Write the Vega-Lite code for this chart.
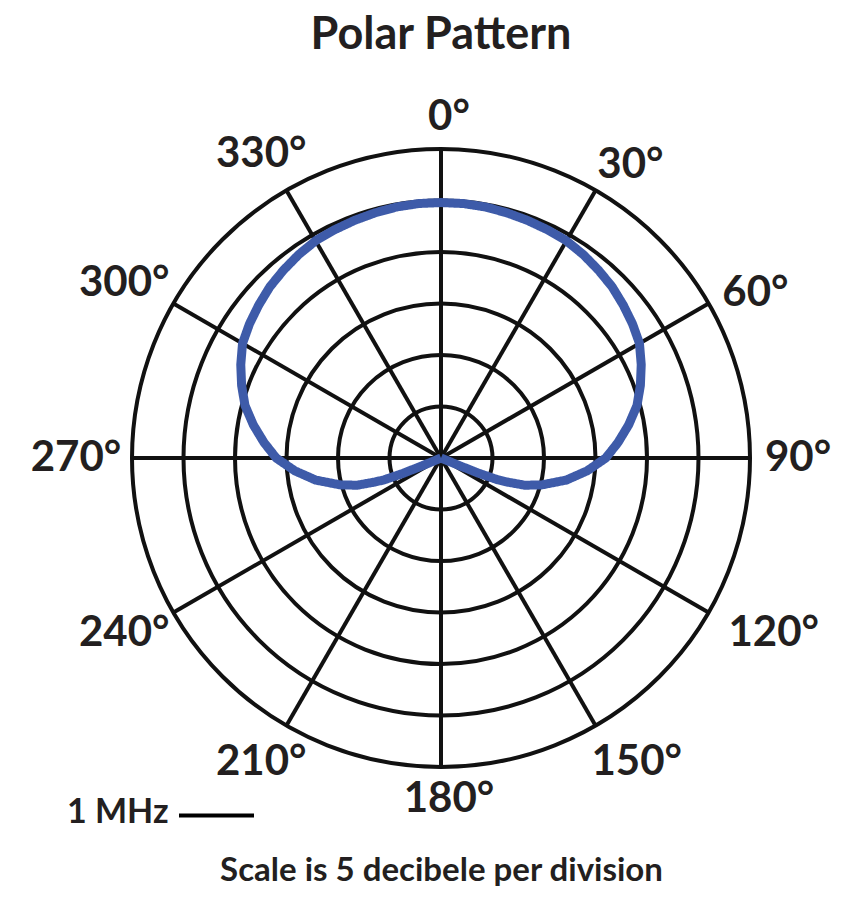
{
  "$schema": "https://vega.github.io/schema/vega-lite/v6.json",
  "width": 618,
  "height": 618,
  "autosize": {"type": "none"},
  "padding": {"left": 132, "top": 149, "right": 93, "bottom": 148},
  "background": "white",
  "title": {"text": "Polar Pattern", "font": "Lato", "fontSize": 45, "fontWeight": "bold", "color": "#231f20", "anchor": "middle", "frame": "group", "baseline": "alphabetic", "offset": 2},
  "config": {"view": {"stroke": null}, "font": "Lato"},
  "encoding": {
    "x": {"field": "px", "type": "quantitative", "scale": {"domain": [-6, 6], "nice": false, "zero": false},
      "axis": {"title": "Scale is 5 decibele per division", "domain": false, "ticks": false, "labels": false, "grid": false, "titleFont": "Lato", "titleFontSize": 33, "titleFontWeight": "bold", "titleColor": "#231f20", "titlePadding": 87}},
    "y": {"field": "py", "type": "quantitative", "scale": {"domain": [-6, 6], "nice": false, "zero": false}, "axis": null}
  },
  "layer": [
    {
      "data": {"values": [{"ring": 1}, {"ring": 2}, {"ring": 3}, {"ring": 4}, {"ring": 5}, {"ring": 6}]},
      "transform": [{"calculate": "0", "as": "px"}, {"calculate": "0", "as": "py"}],
      "mark": {"type": "arc", "filled": false, "stroke": "#111111", "strokeWidth": 4, "theta": 0, "theta2": 6.2832},
      "encoding": {"radius": {"field": "ring", "type": "quantitative", "stack": false, "scale": {"type": "linear", "domain": [0, 6], "range": [0, 309], "zero": true}}}
    },
    {
      "data": {"values": [{"angle": 0}, {"angle": 30}, {"angle": 60}, {"angle": 90}, {"angle": 120}, {"angle": 150}, {"angle": 180}, {"angle": 210}, {"angle": 240}, {"angle": 270}, {"angle": 300}, {"angle": 330}]},
      "transform": [
        {"calculate": "0", "as": "px"},
        {"calculate": "0", "as": "py"},
        {"calculate": "6*sin(datum.angle*PI/180)", "as": "px2"},
        {"calculate": "6*cos(datum.angle*PI/180)", "as": "py2"}
      ],
      "mark": {"type": "rule", "stroke": "#111111", "strokeWidth": 4},
      "encoding": {"x2": {"field": "px2"}, "y2": {"field": "py2"}}
    },
    {
      "data": {"values": [
        {"angle": -113, "db": -30}, {"angle": -112.5, "db": -28}, {"angle": -112, "db": -26}, {"angle": -111, "db": -24.1},
        {"angle": -110, "db": -23.2}, {"angle": -108, "db": -21.45}, {"angle": -105, "db": -19.9}, {"angle": -100, "db": -17.65},
        {"angle": -95, "db": -15.75}, {"angle": -90, "db": -14.0}, {"angle": -85, "db": -12.75}, {"angle": -80, "db": -11.5},
        {"angle": -75, "db": -10.3}, {"angle": -70, "db": -9.4}, {"angle": -65, "db": -8.55}, {"angle": -60, "db": -7.75},
        {"angle": -55, "db": -7.3}, {"angle": -50, "db": -6.9}, {"angle": -45, "db": -6.5}, {"angle": -40, "db": -6.2},
        {"angle": -35, "db": -5.9}, {"angle": -30, "db": -5.65}, {"angle": -25, "db": -5.55}, {"angle": -20, "db": -5.45},
        {"angle": -15, "db": -5.35}, {"angle": -10, "db": -5.25}, {"angle": -5, "db": -5.2}, {"angle": 0, "db": -5.2},
        {"angle": 5, "db": -5.2}, {"angle": 10, "db": -5.25}, {"angle": 15, "db": -5.35}, {"angle": 20, "db": -5.45},
        {"angle": 25, "db": -5.55}, {"angle": 30, "db": -5.65}, {"angle": 35, "db": -5.9}, {"angle": 40, "db": -6.2},
        {"angle": 45, "db": -6.5}, {"angle": 50, "db": -6.9}, {"angle": 55, "db": -7.3}, {"angle": 60, "db": -7.75},
        {"angle": 65, "db": -8.55}, {"angle": 70, "db": -9.4}, {"angle": 75, "db": -10.3}, {"angle": 80, "db": -11.5},
        {"angle": 85, "db": -12.75}, {"angle": 90, "db": -14.0}, {"angle": 95, "db": -15.75}, {"angle": 100, "db": -17.65},
        {"angle": 105, "db": -19.9}, {"angle": 108, "db": -21.45}, {"angle": 110, "db": -23.2}, {"angle": 111, "db": -24.1},
        {"angle": 112, "db": -26}, {"angle": 112.5, "db": -28}, {"angle": 113, "db": -30}
      ]},
      "transform": [
        {"calculate": "(datum.db+30)/5", "as": "r"},
        {"calculate": "datum.r*sin(datum.angle*PI/180)", "as": "px"},
        {"calculate": "datum.r*cos(datum.angle*PI/180)", "as": "py"}
      ],
      "mark": {"type": "line", "stroke": "#3e5ba9", "strokeWidth": 9, "strokeJoin": "round"},
      "encoding": {
        "order": {"field": "angle", "type": "quantitative"},
        "strokeDash": {"datum": "1 MHz", "scale": {"range": [[1, 0]]},
          "legend": {"orient": "none", "legendX": -65, "legendY": 627, "title": "1 MHz", "titleOrient": "left", "titleBaseline": "line-top", "titleLineHeight": 27, "titleFont": "Lato", "titleFontSize": 34, "titleFontWeight": "bold", "titleColor": "#231f20", "titlePadding": 8, "labelExpr": "''", "symbolType": "stroke", "symbolSize": 5625, "symbolStrokeWidth": 4, "symbolStrokeColor": "black", "symbolDash": [1, 0]}}
      }
    },
    {
      "data": {"values": [
        {"angle": 0, "label": "0°"}, {"angle": 30, "label": "30°"}, {"angle": 60, "label": "60°"}, {"angle": 90, "label": "90°"},
        {"angle": 120, "label": "120°"}, {"angle": 150, "label": "150°"}, {"angle": 180, "label": "180°"}, {"angle": 210, "label": "210°"},
        {"angle": 240, "label": "240°"}, {"angle": 270, "label": "270°"}, {"angle": 300, "label": "300°"}, {"angle": 330, "label": "330°"}
      ]},
      "transform": [
        {"calculate": "length(datum.label)-1", "as": "nd"},
        {"calculate": "datum.angle*PI/180", "as": "a"},
        {"calculate": "(datum.angle + 2*sin(2*datum.a))*PI/180", "as": "a2"},
        {"calculate": "(341 + (24*datum.nd - 40)*abs(sin(datum.a)))/51.5", "as": "rl"},
        {"calculate": "datum.rl*sin(datum.a2)", "as": "px"},
        {"calculate": "datum.rl*cos(datum.a2)", "as": "py"}
      ],
      "mark": {"type": "text", "font": "Lato", "fontSize": 42, "fontWeight": "bold", "fill": "#231f20", "align": "center", "baseline": "middle", "dx": 8},
      "encoding": {"text": {"field": "label"}}
    }
  ]
}
